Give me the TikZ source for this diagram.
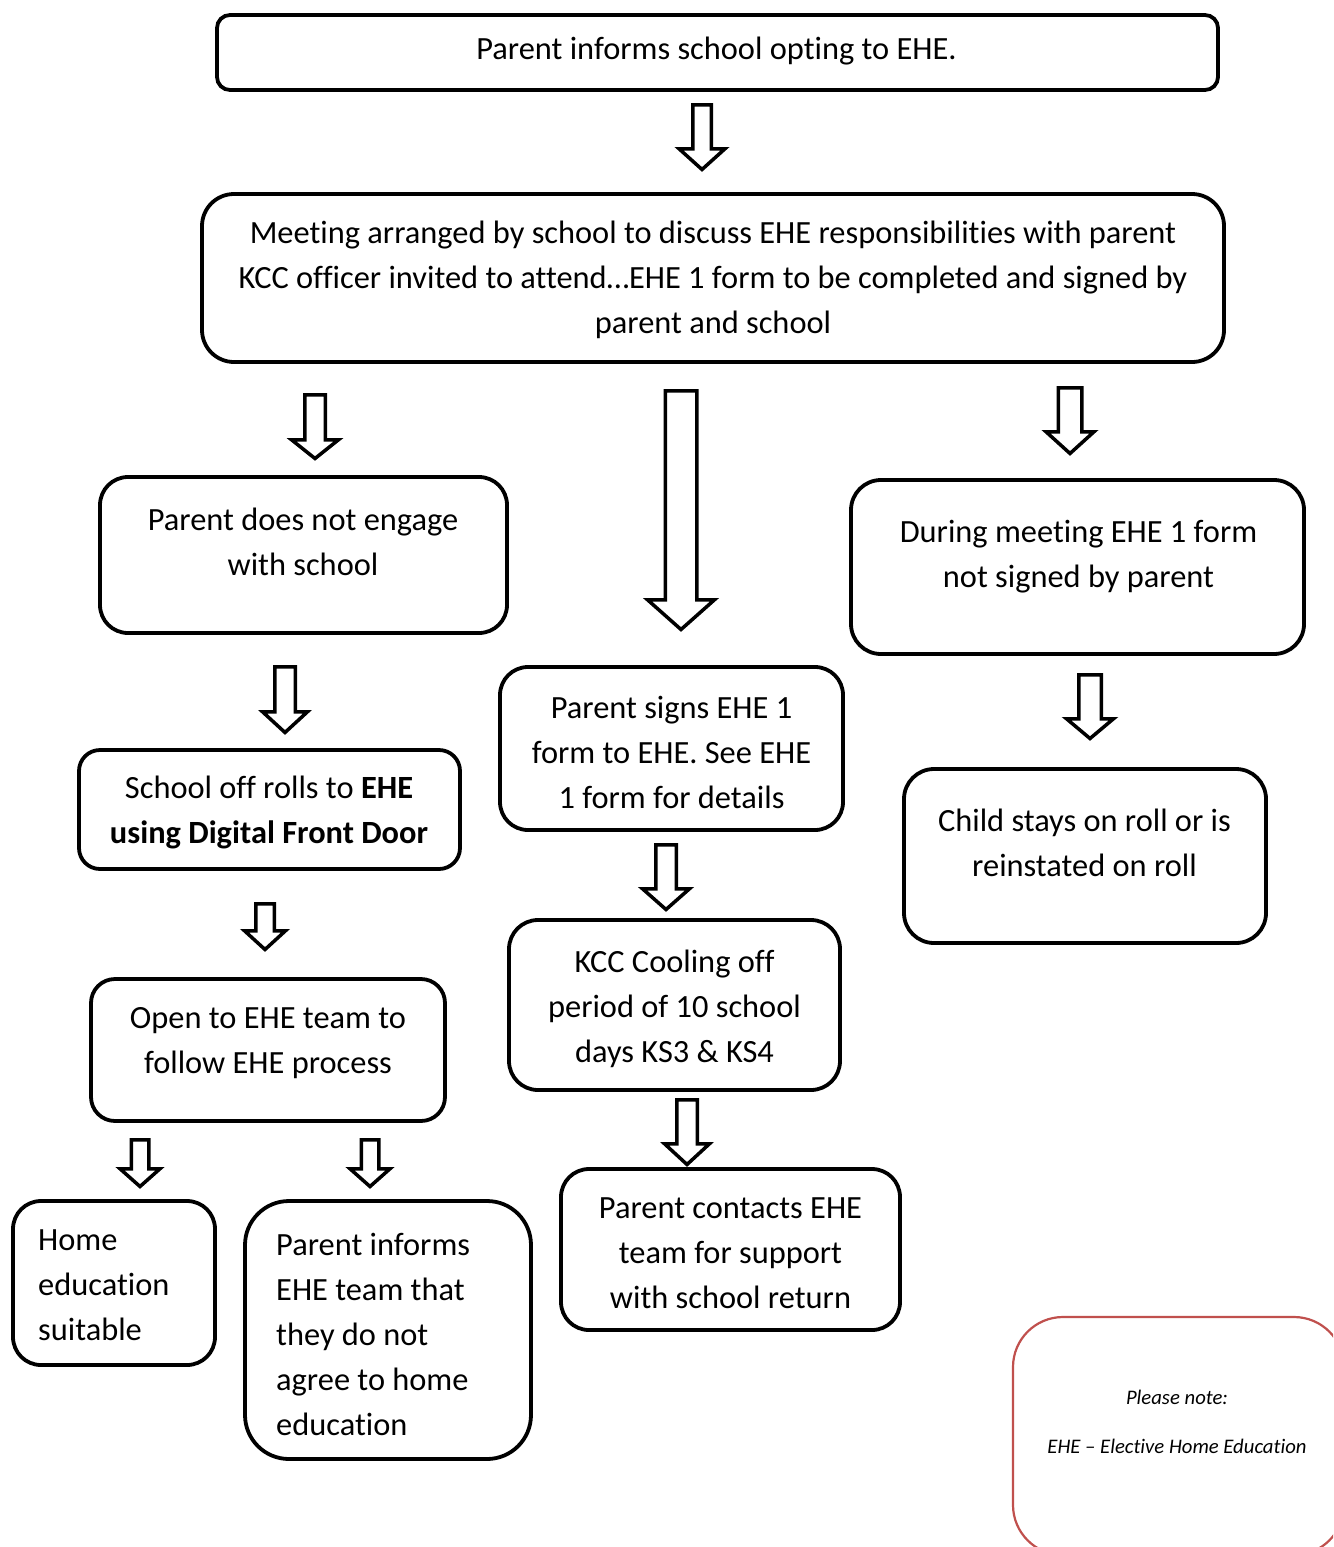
\documentclass[tikz,border=0pt]{standalone}
\usepackage{fontspec}
\setmainfont{Carlito}[Ligatures={NoCommon}]
\definecolor{notered}{RGB}{192,80,77}
\newcommand\mainsize{\fontsize{32.4}{45}\selectfont}
\newcommand\notesize{\fontsize{20.7}{49}\selectfont\itshape}
% #1 name, #2 x1, #3 y1, #4 x2, #5 y2 (outer edges), #6 corner radius
\newcommand\flowbox[6]{%
  \node[box, rounded corners=#6pt, minimum width={#4-#2-4}, minimum height={#5-#3-4}]
    (#1) at ({(#2+#4)/2},{(#3+#5)/2}) {};}
% #1 cx, #2 top, #3 head start, #4 tip, #5 shaft width, #6 head width (outer)
\newcommand\hollowarrow[6]{%
  \draw[harrow] ({#1-(#5-3.5)/2},{#2+1.75}) -- ({#1+(#5-3.5)/2},{#2+1.75})
    -- ({#1+(#5-3.5)/2},{#3+1.75}) -- ({#1+(#6-5)/2},{#3+1.75})
    -- ({#1},{#4-2.5}) -- ({#1-(#6-5)/2},{#3+1.75})
    -- ({#1-(#5-3.5)/2},{#3+1.75}) -- cycle;}
\begin{document}
\begin{tikzpicture}[x=1pt,y=-1pt,
  box/.style={draw=black, line width=3.8pt, fill=white, inner sep=0pt, outer sep=0pt},
  txt/.style={font=\mainsize, align=center, inner sep=0pt,
    execute at begin node=\strut, execute at end node=\strut},
  ltxt/.style={txt, align=left, anchor=west},
  notetxt/.style={font=\notesize, align=center, inner sep=0pt,
    execute at begin node=\strut, execute at end node=\strut},
  harrow/.style={draw=black, line width=3.5pt, fill=white, line join=miter},
  notebox/.style={draw=notered, line width=2.2pt, fill=white, inner sep=0pt}]
\useasboundingbox (0,0) rectangle (1333,1547);
\fill[white] (0,0) rectangle (1333,1547);

% boxes
\flowbox{top}{215}{13}{1220}{92}{13}
\flowbox{meet}{200}{192}{1226}{364}{32}
\flowbox{noeng}{98}{475}{509}{635}{28}
\flowbox{during}{849}{478}{1306}{656}{30}
\flowbox{signs}{498}{665}{845}{832}{28}
\flowbox{offroll}{77}{748}{462}{871}{21}
\flowbox{stays}{902}{767}{1268}{945}{30}
\flowbox{kcc}{507}{918}{842}{1092}{29}
\flowbox{open}{89}{977}{447}{1123}{24}
\flowbox{homeok}{11}{1199}{217}{1367}{28}
\flowbox{noagree}{243}{1199}{533}{1461}{44}
\flowbox{contact}{559}{1167}{902}{1332}{28}

% note box (runs past the page edge)
\begin{scope}
  \clip (0,0) rectangle (1333,1547);
  \node[notebox, rounded corners=50pt, minimum width=331, minimum height=238]
    (note) at (1178.5,1436) {};
  \node[notetxt] (notet) at (1177,1429.5) {Please note:\\EHE -- Elective Home Education};
\end{scope}

% texts
\node[txt] (topt) at (716.5,50.5) {Parent informs school opting to EHE.};
\node[txt] (meett) at (713,284) {Meeting arranged by school to discuss EHE responsibilities with parent\\
  KCC officer invited to attend\ldots EHE 1 form to be completed and signed by\\parent and school};
\node[txt] (noengt) at (303,548) {Parent does not engage\\with school};
\node[txt] (duringt) at (1078.5,560.5) {During meeting EHE 1 form\\not signed by parent};
\node[txt] (signst) at (671.5,759) {Parent signs EHE 1\\form to EHE. See EHE\\1 form for details};
\node[txt] (offrollt) at (269,816) {School off rolls to \textbf{EHE}\\\textbf{using Digital Front Door}};
\node[txt] (stayst) at (1084.5,849) {Child stays on roll or is\\reinstated on roll};
\node[txt] (kcct) at (674.5,1012.5) {KCC Cooling off\\period of 10 school\\days KS3 \& KS4};
\node[txt] (opent) at (268,1047.5) {Open to EHE team to\\follow EHE process};
\node[txt] (contactt) at (730.5,1260) {Parent contacts EHE\\team for support\\with school return};
\node[ltxt] (homeokt) at (38,1292) {Home\\education\\suitable};
\node[ltxt] (noagreet) at (276,1341) {Parent informs\\EHE team that\\they do not\\agree to home\\education};

% hollow block arrows
\hollowarrow{702}{103}{147}{172}{22}{51}
\hollowarrow{315}{393}{438}{461}{24}{52}
\hollowarrow{681}{389}{598}{632}{35}{72}
\hollowarrow{1070}{386}{430}{456}{27}{53}
\hollowarrow{285}{665}{710}{735}{24}{50}
\hollowarrow{1090}{673}{717}{741}{26}{52}
\hollowarrow{666}{843}{887}{912}{24}{52}
\hollowarrow{265}{902}{929}{952}{22}{46}
\hollowarrow{687}{1098}{1142}{1167}{24}{50}
\hollowarrow{140}{1138}{1167}{1189}{21}{45}
\hollowarrow{370}{1138}{1167}{1189}{21}{45}
\end{tikzpicture}
\end{document}
